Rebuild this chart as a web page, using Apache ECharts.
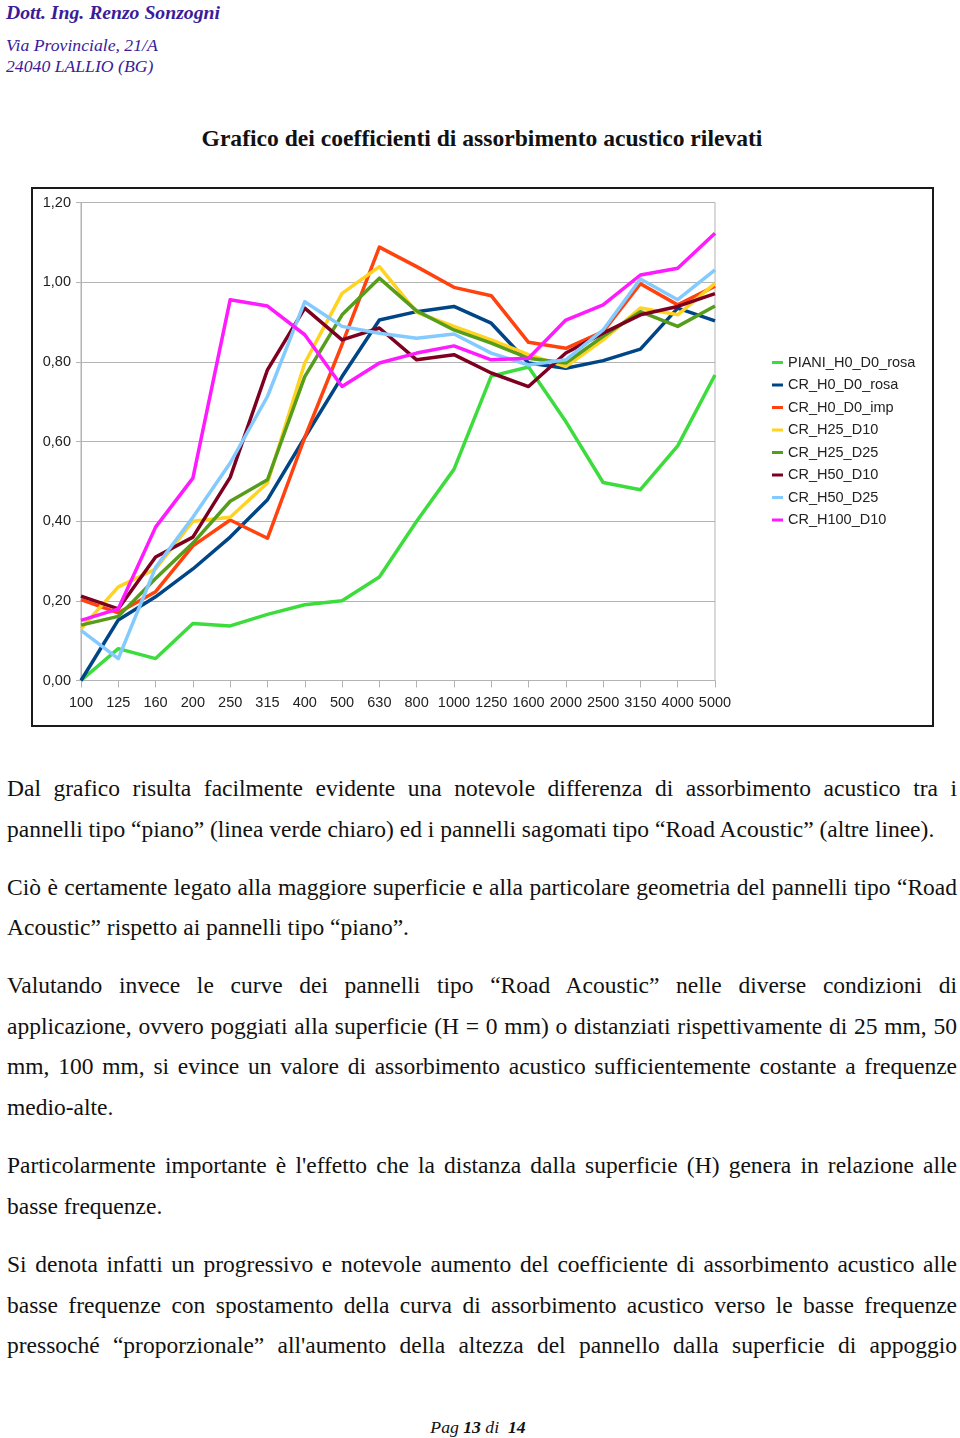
<!DOCTYPE html>
<html>
<head>
<meta charset="utf-8">
<script src="https://cdn.jsdelivr.net/npm/echarts@6/dist/echarts.min.js"></script>
<style>
  html, body { margin:0; padding:0; background:#fff; }
  body { width:960px; height:1438px; position:relative; overflow:hidden; font-family:"Liberation Serif","Times New Roman",serif; color:#111; }
  .hdr { position:absolute; left:6px; color:#3a1c9a; font-style:italic; white-space:nowrap; }
  #h1 { top:0px; font-size:19.7px; font-weight:bold; line-height:24px; }
  #h2 { top:35px; font-size:17.7px; line-height:20px; }
  #h3 { top:56px; font-size:17.7px; line-height:20px; }
  #title { position:absolute; top:124px; left:0; width:964px; text-align:center; font-weight:bold; font-size:23.6px; line-height:28px; white-space:nowrap; }
  #frame { position:absolute; left:31px; top:187px; width:903px; height:540px; box-sizing:border-box; border:2px solid #1a1a1a; }
  #chart { position:absolute; left:33px; top:189px; width:900px; height:536px; }
  .ln { position:absolute; left:7px; width:950px; font-size:23.5px; line-height:40.5px; text-align:left; }
  .j { text-align:justify; text-align-last:justify; }
  #foot { position:absolute; top:1416px; left:0; width:956px; text-align:center; font-size:17.7px; font-style:italic; line-height:22px; }
</style>
</head>
<body>
<div class="hdr" id="h1">Dott. Ing. Renzo Sonzogni</div>
<div class="hdr" id="h2">Via Provinciale, 21/A</div>
<div class="hdr" id="h3">24040 LALLIO (BG)</div>
<div id="title">Grafico dei coefficienti di assorbimento acustico rilevati</div>
<div id="frame"></div>
<div id="chart"></div>

<div class="ln j" style="top:768px">Dal grafico risulta facilmente evidente una notevole differenza di assorbimento acustico tra i</div>
<div class="ln" style="top:809px">pannelli tipo “piano” (linea verde chiaro) ed i pannelli sagomati tipo “Road Acoustic” (altre linee).</div>
<div class="ln j" style="top:867px">Ciò è certamente legato alla maggiore superficie e alla particolare geometria del pannelli tipo “Road</div>
<div class="ln" style="top:907px">Acoustic” rispetto ai pannelli tipo “piano”.</div>
<div class="ln j" style="top:965px">Valutando invece le curve dei pannelli tipo “Road Acoustic” nelle diverse condizioni di</div>
<div class="ln j" style="top:1006px">applicazione, ovvero poggiati alla superficie (H = 0 mm) o distanziati rispettivamente di 25 mm, 50</div>
<div class="ln j" style="top:1046px">mm, 100 mm, si evince un valore di assorbimento acustico sufficientemente costante a frequenze</div>
<div class="ln" style="top:1087px">medio-alte.</div>
<div class="ln j" style="top:1145px">Particolarmente importante è l'effetto che la distanza dalla superficie (H) genera in relazione alle</div>
<div class="ln" style="top:1186px">basse frequenze.</div>
<div class="ln j" style="top:1244px">Si denota infatti un progressivo e notevole aumento del coefficiente di assorbimento acustico alle</div>
<div class="ln j" style="top:1285px">basse frequenze con spostamento della curva di assorbimento acustico verso le basse frequenze</div>
<div class="ln j" style="top:1325px">pressoché “proporzionale” all'aumento della altezza del pannello dalla superficie di appoggio</div>

<div id="foot">Pag <b>13</b> di&nbsp; <b>14</b></div>
<script>
const categories = ["100","125","160","200","250","315","400","500","630","800","1000","1250","1600","2000","2500","3150","4000","5000"];
const seriesNames = ["PIANI_H0_D0_rosa","CR_H0_D0_rosa","CR_H0_D0_imp","CR_H25_D10","CR_H25_D25","CR_H50_D10","CR_H50_D25","CR_H100_D10"];
const PIANI_H0_D0_rosa = [0.00,0.08,0.055,0.143,0.137,0.166,0.19,0.20,0.26,0.40,0.53,0.764,0.787,0.65,0.497,0.479,0.589,0.767];
const CR_H0_D0_rosa    = [0.00,0.152,0.21,0.28,0.36,0.454,0.61,0.763,0.905,0.926,0.939,0.897,0.797,0.784,0.803,0.832,0.935,0.903];
const CR_H0_D0_imp     = [0.203,0.17,0.223,0.338,0.403,0.357,0.61,0.844,1.088,1.039,0.987,0.966,0.849,0.834,0.876,0.996,0.943,0.99];
const CR_H25_D10       = [0.13,0.235,0.28,0.40,0.41,0.496,0.797,0.972,1.039,0.924,0.889,0.855,0.818,0.788,0.855,0.935,0.918,0.997];
const CR_H25_D25       = [0.139,0.161,0.256,0.345,0.45,0.504,0.763,0.918,1.01,0.928,0.88,0.847,0.809,0.797,0.864,0.926,0.889,0.94];
const CR_H50_D10       = [0.212,0.18,0.31,0.36,0.51,0.78,0.935,0.855,0.885,0.805,0.818,0.772,0.738,0.822,0.872,0.918,0.939,0.971];
const CR_H50_D25       = [0.126,0.055,0.284,0.41,0.546,0.713,0.951,0.889,0.872,0.859,0.870,0.822,0.792,0.805,0.880,1.008,0.956,1.031];
const CR_H100_D10      = [0.151,0.18,0.385,0.508,0.956,0.94,0.868,0.738,0.797,0.822,0.84,0.805,0.809,0.905,0.943,1.018,1.035,1.123];
const seriesData = [PIANI_H0_D0_rosa,CR_H0_D0_rosa,CR_H0_D0_imp,CR_H25_D10,CR_H25_D25,CR_H50_D10,CR_H50_D25,CR_H100_D10];
const colors = ["#3ddc3d","#004586","#ff420e","#ffd320","#579d1c","#7e0021","#83caff","#ff1aff"];

const chart = echarts.init(document.getElementById('chart'), null, {renderer:'canvas'});
const font = "'Liberation Sans', Arial, sans-serif";
chart.setOption({
  animation:false,
  color: colors,
  textStyle:{ fontFamily: font },
  grid:{ left:48, right:218, top:13.5, bottom:44.5, show:true, borderColor:'#b3b3b3', borderWidth:1 },
  legend:{
    orient:'vertical', left:734, top:161, itemGap:7.5,
    icon:'rect', itemWidth:11, itemHeight:3,
    textStyle:{ fontSize:14.5, color:'#222', fontFamily:font, lineHeight:14 },
    data: seriesNames
  },
  xAxis:{
    type:'category', data:categories, boundaryGap:false,
    axisLine:{ lineStyle:{ color:'#b3b3b3' } },
    axisTick:{ show:true, length:7, lineStyle:{ color:'#b3b3b3' } },
    axisLabel:{ interval:0, fontSize:14.5, color:'#222', margin:15, fontFamily:font },
    splitLine:{ show:false }
  },
  yAxis:{
    type:'value', min:0, max:1.2, interval:0.2,
    axisLine:{ show:true, lineStyle:{ color:'#b3b3b3' } },
    axisTick:{ show:true, length:5, lineStyle:{ color:'#b3b3b3' } },
    axisLabel:{ fontSize:14.5, color:'#222', margin:10, fontFamily:font,
      formatter: v => v.toFixed(2).replace('.', ',') },
    splitLine:{ lineStyle:{ color:'#b3b3b3', width:1 } }
  },
  series: seriesNames.map((n,i) => ({
    name:n, type:'line', data:seriesData[i], symbol:'none', showSymbol:false,
    lineStyle:{ width:3.5, join:'round' }
  }))
});
</script>
</body>
</html>
